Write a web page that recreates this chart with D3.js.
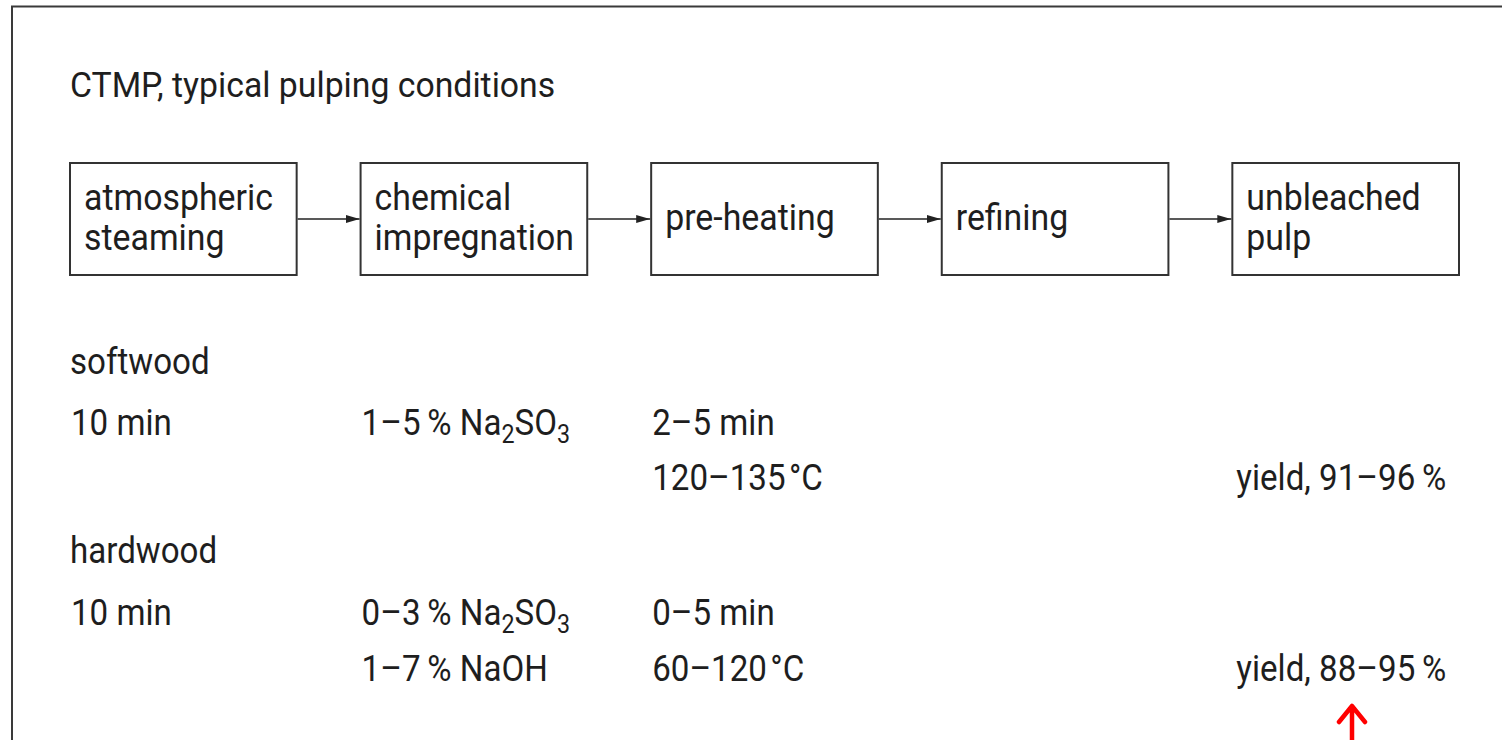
<!DOCTYPE html>
<html>
<head>
<meta charset="utf-8">
<script src="https://cdn.jsdelivr.net/npm/d3@7"></script>
<style>
  body { margin: 0; background: #fff; }
  text { font-family: Roboto, "Noto Sans", sans-serif; fill: #1e1e1e; }
</style>
</head>
<body>
<div id="chart"></div>
<script>
// data
var title = "CTMP, typical pulping conditions";
var steps = [["atmospheric", "steaming"], ["chemical", "impregnation"], ["pre-heating"], ["refining"], ["unbleached", "pulp"]];
var woodTypes = ["softwood", "hardwood"];
// conditions per wood type: [step index, line within block, text parts]
var softwood = [
  [0, 0, [["10 min"]]],
  [1, 0, [["1–5\u2009% Na"], ["2", "sub"], ["SO"], ["3", "sub"]]],
  [2, 0, [["2–5 min"]]],
  [2, 1, [["120–135\u200a°C"]]],
  [4, 1, [["yield, 91–96\u2009%"]]]
];
var hardwood = [
  [0, 0, [["10 min"]]],
  [1, 0, [["0–3\u2009% Na"], ["2", "sub"], ["SO"], ["3", "sub"]]],
  [1, 1, [["1–7\u2009% NaOH"]]],
  [2, 0, [["0–5 min"]]],
  [2, 1, [["60–120\u200a°C"]]],
  [4, 1, [["yield, 88–95\u2009%"]]]
];
var conditions = [softwood, hardwood];

var width = 1502, height = 740;
var sx = 0.895; // horizontal squeeze to mimic the condensed face

var svg = d3.select("#chart").append("svg")
    .attr("width", width)
    .attr("height", height);

// frame
svg.append("path")
    .attr("d", "M12,745 V6.5 H1510")
    .attr("fill", "none")
    .attr("stroke", "#3a3a3a")
    .attr("stroke-width", 2);

svg.append("defs").append("marker")
    .attr("id", "head")
    .attr("viewBox", "0 0 14 10")
    .attr("refX", 14).attr("refY", 5)
    .attr("markerWidth", 14).attr("markerHeight", 10)
    .attr("markerUnits", "userSpaceOnUse")
    .attr("orient", "auto")
  .append("path")
    .attr("d", "M0,1 L14,5 L0,9 Z")
    .attr("fill", "#222");

var x = d3.scaleBand()
    .domain(d3.range(steps.length))
    .range([70, 1459])
    .paddingInner(0.22);

var boxTop = 163, boxH = 112;

// title
svg.append("text")
    .attr("transform", "translate(70,97) scale(0.965,1)")
    .attr("font-size", 35)
    .text(title);

// boxes
var box = svg.selectAll("g.step")
    .data(steps)
    .enter().append("g")
    .attr("class", "step")
    .attr("transform", (d, i) => "translate(" + x(i) + "," + boxTop + ")");

box.append("rect")
    .attr("width", x.bandwidth())
    .attr("height", boxH)
    .attr("fill", "#fff")
    .attr("stroke", "#333")
    .attr("stroke-width", 2);

box.each(function(lines) {
  var g = d3.select(this);
  var lineH = 40;
  var y0 = boxH / 2 - (lines.length - 1) * lineH / 2 + 11;
  lines.forEach(function(l, k) {
    g.append("text")
        .attr("transform", "translate(14," + (y0 + k * lineH) + ") scale(" + (sx + 0.02) + ",1)")
        .attr("font-size", 37)
        .text(l);
  });
});

// arrows between boxes
svg.selectAll("line.arrow")
    .data(d3.range(steps.length - 1))
    .enter().append("line")
    .attr("class", "arrow")
    .attr("x1", i => x(i) + x.bandwidth() + 1)
    .attr("x2", i => x(i + 1) - 1)
    .attr("y1", boxTop + boxH / 2)
    .attr("y2", boxTop + boxH / 2)
    .attr("stroke", "#222")
    .attr("stroke-width", 1.6)
    .attr("marker-end", "url(#head)");

// condition rows
var headY = [374, 563];
var lineY = [[435, 490], [625, 681]];

woodTypes.forEach(function(w, j) {
  svg.append("text")
      .attr("transform", "translate(70," + headY[j] + ") scale(" + sx + ",1)")
      .attr("font-size", 37)
      .text(w);

  conditions[j].forEach(function(c) {
    var tx = c[0] === 4 ? x(c[0]) + 4 : x(c[0]) + 1;
    var t = svg.append("text")
        .attr("transform", "translate(" + tx + "," + lineY[j][c[1]] + ") scale(" + sx + ",1)")
        .attr("font-size", 37);
    c[2].forEach(function(p) {
      var s = t.append("tspan").text(p[0]);
      if (p[1] === "sub") {
        s.attr("font-size", 26).attr("dy", 8);
      } else if (t.selectAll("tspan").size() > 1) {
        s.attr("dy", -8);
      }
    });
  });
});

// red pointer arrow
svg.append("path")
    .attr("d", "M1352,745 V706 M1339,722 L1352,706 L1365,722")
    .attr("fill", "none")
    .attr("stroke", "#ff0000")
    .attr("stroke-width", 4.5)
    .attr("stroke-linecap", "round")
    .attr("stroke-linejoin", "round");
</script>
</body>
</html>
